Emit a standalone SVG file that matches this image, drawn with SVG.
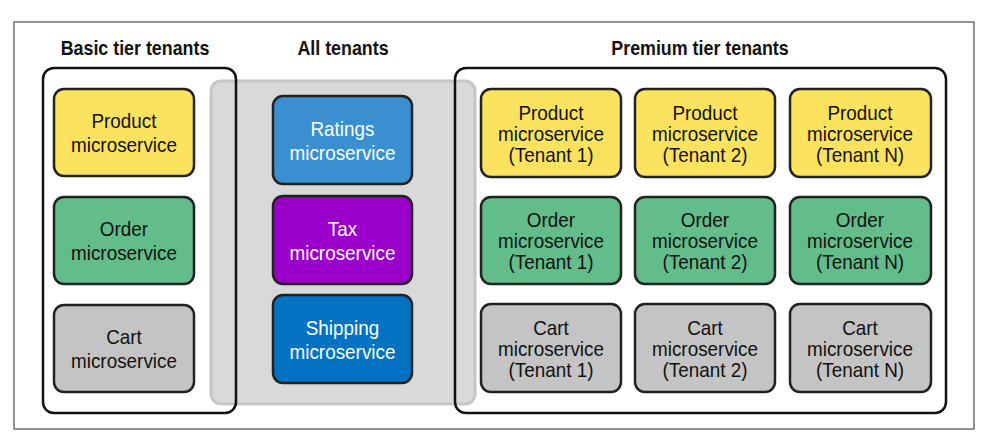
<svg xmlns="http://www.w3.org/2000/svg" width="988" height="443" viewBox="0 0 988 443">
<style>
.frame{fill:#fff;stroke:#6e6e6e;stroke-width:1.5}
.tier{fill:none;stroke:#111;stroke-width:2.5}
.all{fill:#d9d9d9;stroke:#c6c6c6;stroke-width:3}
.n{stroke:#222;stroke-width:2.5}
.y{fill:#fbe35f}.g{fill:#62bd8a}.c{fill:#c4c4c4}.b1{fill:#3a8fd1}.p{fill:#9a00ca}.b2{fill:#0272c2}
text{font-family:"Liberation Sans",Arial,sans-serif;text-anchor:middle}
.t{font-size:21px;font-weight:bold;fill:#111}
.l{font-size:21px;fill:#111}
.w{fill:#fff}
</style>
<rect class="frame" x="14" y="22" width="960" height="407"/>
<g id="all-tenants">
<rect class="all" x="211" y="81" width="264" height="323" rx="10"/>
<text class="t" transform="translate(343,0) scale(0.85,1)" x="0" y="55">All tenants</text>
</g>
<g id="basic-tier">
<rect class="tier" x="43" y="68" width="193" height="345" rx="11"/>
<text class="t" transform="translate(135,0) scale(0.85,1)" x="0" y="55">Basic tier tenants</text>
</g>
<g id="premium-tier">
<rect class="tier" x="455" y="68" width="491" height="345" rx="11"/>
<text class="t" transform="translate(700,0) scale(0.85,1)" x="0" y="55">Premium tier tenants</text>
</g>
<g id="connectors"></g>
<g id="basic-product"><rect class="n y" x="54" y="89" width="140" height="87" rx="10"/><text class="l" transform="translate(124,0) scale(0.9,1)"><tspan x="0" y="128">Product</tspan><tspan x="0" y="152">microservice</tspan></text></g>
<g id="basic-order"><rect class="n g" x="54" y="197" width="140" height="87" rx="10"/><text class="l" transform="translate(124,0) scale(0.9,1)"><tspan x="0" y="236">Order</tspan><tspan x="0" y="260">microservice</tspan></text></g>
<g id="basic-cart"><rect class="n c" x="54" y="305" width="140" height="87" rx="10"/><text class="l" transform="translate(124,0) scale(0.9,1)"><tspan x="0" y="344">Cart</tspan><tspan x="0" y="368">microservice</tspan></text></g>
<g id="ratings"><rect class="n b1" x="273" y="96" width="139" height="88" rx="10"/><text class="l w" transform="translate(342.5,0) scale(0.9,1)"><tspan x="0" y="136">Ratings</tspan><tspan x="0" y="160">microservice</tspan></text></g>
<g id="tax"><rect class="n p" x="273" y="196" width="139" height="88" rx="10"/><text class="l w" transform="translate(342.5,0) scale(0.9,1)"><tspan x="0" y="236">Tax</tspan><tspan x="0" y="260">microservice</tspan></text></g>
<g id="shipping"><rect class="n b2" x="273" y="295" width="139" height="88" rx="10"/><text class="l w" transform="translate(342.5,0) scale(0.9,1)"><tspan x="0" y="335">Shipping</tspan><tspan x="0" y="359">microservice</tspan></text></g>
<g id="product-t1"><rect class="n y" x="481" y="89" width="140" height="88" rx="10"/><text class="l" transform="translate(551,0) scale(0.9,1)"><tspan x="0" y="120">Product</tspan><tspan x="0" y="141">microservice</tspan><tspan x="0" y="162">(Tenant 1)</tspan></text></g>
<g id="product-t2"><rect class="n y" x="635" y="89" width="140" height="88" rx="10"/><text class="l" transform="translate(705,0) scale(0.9,1)"><tspan x="0" y="120">Product</tspan><tspan x="0" y="141">microservice</tspan><tspan x="0" y="162">(Tenant 2)</tspan></text></g>
<g id="product-tn"><rect class="n y" x="790" y="89" width="141" height="88" rx="10"/><text class="l" transform="translate(860,0) scale(0.9,1)"><tspan x="0" y="120">Product</tspan><tspan x="0" y="141">microservice</tspan><tspan x="0" y="162">(Tenant N)</tspan></text></g>
<g id="order-t1"><rect class="n g" x="481" y="197" width="140" height="87" rx="10"/><text class="l" transform="translate(551,0) scale(0.9,1)"><tspan x="0" y="227">Order</tspan><tspan x="0" y="248">microservice</tspan><tspan x="0" y="269">(Tenant 1)</tspan></text></g>
<g id="order-t2"><rect class="n g" x="635" y="197" width="140" height="87" rx="10"/><text class="l" transform="translate(705,0) scale(0.9,1)"><tspan x="0" y="227">Order</tspan><tspan x="0" y="248">microservice</tspan><tspan x="0" y="269">(Tenant 2)</tspan></text></g>
<g id="order-tn"><rect class="n g" x="790" y="197" width="141" height="87" rx="10"/><text class="l" transform="translate(860,0) scale(0.9,1)"><tspan x="0" y="227">Order</tspan><tspan x="0" y="248">microservice</tspan><tspan x="0" y="269">(Tenant N)</tspan></text></g>
<g id="cart-t1"><rect class="n c" x="481" y="304" width="140" height="88" rx="10"/><text class="l" transform="translate(551,0) scale(0.9,1)"><tspan x="0" y="335">Cart</tspan><tspan x="0" y="356">microservice</tspan><tspan x="0" y="377">(Tenant 1)</tspan></text></g>
<g id="cart-t2"><rect class="n c" x="635" y="304" width="140" height="88" rx="10"/><text class="l" transform="translate(705,0) scale(0.9,1)"><tspan x="0" y="335">Cart</tspan><tspan x="0" y="356">microservice</tspan><tspan x="0" y="377">(Tenant 2)</tspan></text></g>
<g id="cart-tn"><rect class="n c" x="790" y="304" width="141" height="88" rx="10"/><text class="l" transform="translate(860,0) scale(0.9,1)"><tspan x="0" y="335">Cart</tspan><tspan x="0" y="356">microservice</tspan><tspan x="0" y="377">(Tenant N)</tspan></text></g>
</svg>
